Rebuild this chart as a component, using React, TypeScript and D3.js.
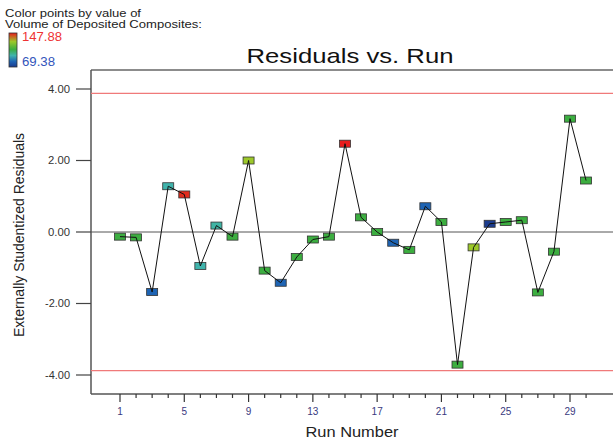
import React from "react";
import * as d3 from "d3";

const runs = d3.range(1, 31);
const residuals = [
  -0.13, -0.15, -1.68, 1.28, 1.05, -0.95, 0.18, -0.13, 2.0, -1.08,
  -1.42, -0.7, -0.21, -0.13, 2.47, 0.41, 0.0, -0.3, -0.5, 0.72,
  0.28, -3.71, -0.43, 0.23, 0.28, 0.33, -1.69, -0.55, 3.17, 1.44,
];
const volumes = [
  110, 110, 82, 96, 146, 96, 97, 110, 128, 110,
  82, 110, 110, 110, 147.88, 110, 110, 82, 110, 82,
  110, 110, 128, 70, 110, 110, 110, 110, 110, 110,
];
const limit = 3.88;
const yTicks = [-4, -2, 0, 2, 4];
const xMajorTicks = [1, 5, 9, 13, 17, 21, 25, 29];
const xMinorTicks = d3.range(1, 31);
const volMin = 69.38;
const volMax = 147.88;
const colorStops = [69.38, 82, 96, 110, 128, 147.88];
const colorRange = ["#1b3a8c", "#1e64b4", "#40b4ac", "#3cae40", "#9cc82a", "#e81c1c"];

export default function App() {
  const W = 613, H = 441;
  const left = 91, top = 70, bottom = 394, right = 613;
  const x = d3.scaleLinear().domain([1, 29]).range([120, 570]);
  const y = d3.scaleLinear().domain([-4, 4]).range([375, 89]);
  const color = d3.scaleLinear<string>().domain(colorStops).range(colorRange);
  const line = d3.line<number>().x((_, i) => x(runs[i])).y((d) => y(d));
  const font = "Arial, 'Liberation Sans', sans-serif";
  const gy = d3.scaleLinear().domain([volMin, volMax]).range([67, 33]);
  const fit = { lengthAdjust: "spacingAndGlyphs" as const };

  return (
    <svg width={W} height={H} style={{ position: "absolute", left: 0, top: 0 }} fontFamily={font}>
      <defs>
        <linearGradient id="vg" x1="0" y1="1" x2="0" y2="0">
          {colorStops.map((s, i) => (
            <stop key={i} offset={(s - volMin) / (volMax - volMin)} stopColor={colorRange[i]} />
          ))}
        </linearGradient>
      </defs>
      {/* legend */}
      <text x={5} y={17} fontSize={11.5} fill="#222" textLength={136} {...fit}>Color points by value of</text>
      <text x={5} y={28} fontSize={11.5} fill="#222" textLength={197} {...fit}>Volume of Deposited Composites:</text>
      <rect x={9} y={gy(volMax)} width={8} height={gy(volMin) - gy(volMax)} fill="url(#vg)" stroke="#333" strokeWidth={0.8} />
      <text x={22} y={41} fontSize={12} fill="#ee3333" textLength={40} {...fit}>{volMax.toFixed(2)}</text>
      <text x={22} y={66} fontSize={12} fill="#3355bb" textLength={33} {...fit}>{volMin.toFixed(2)}</text>

      {/* title */}
      <text x={350} y={63} fontSize={21} textAnchor="middle" fill="#111" textLength={207} {...fit}>Residuals vs. Run</text>

      {/* frame */}
      <line x1={left} y1={top} x2={right} y2={top} stroke="#666" strokeWidth={1.5} />
      <line x1={left} y1={top} x2={left} y2={bottom} stroke="#555" strokeWidth={1.5} />
      <line x1={left} y1={bottom} x2={right} y2={bottom} stroke="#555" strokeWidth={1.5} />

      {/* y ticks */}
      {yTicks.map((t) => (
        <g key={t}>
          <line x1={76} x2={left} y1={y(t)} y2={y(t)} stroke="#444" strokeWidth={1.2} />
          <text x={70} y={y(t) + 3.5} fontSize={10} textAnchor="end" fill="#333" textLength={t < 0 ? 25 : 22} {...fit}>{t.toFixed(2)}</text>
        </g>
      ))}
      {/* x ticks */}
      {xMinorTicks.map((t) => (
        <line key={t} x1={x(t)} x2={x(t)} y1={bottom} y2={xMajorTicks.includes(t) ? 402 : 398} stroke="#333" strokeWidth={1.2} />
      ))}
      {xMajorTicks.map((t) => (
        <text key={t} x={x(t)} y={415} fontSize={10} textAnchor="middle" fill="#3a3a80">{t}</text>
      ))}

      {/* reference lines */}
      <line x1={left} x2={right} y1={y(limit)} y2={y(limit)} stroke="#f07a7a" strokeWidth={1.2} />
      <line x1={left} x2={right} y1={y(-limit)} y2={y(-limit)} stroke="#f07a7a" strokeWidth={1.2} />
      <line x1={left} x2={right} y1={y(0)} y2={y(0)} stroke="#555" strokeWidth={1} />

      {/* markers */}
      {residuals.map((r, i) => (
        <rect key={i} x={x(runs[i]) - 5.5} y={y(r) - 3.5} width={11} height={7} fill={color(volumes[i])} stroke="#333" strokeWidth={0.8} />
      ))}
      <path d={line(residuals) ?? ""} fill="none" stroke="#111" strokeWidth={1} />

      {/* axis labels */}
      <text x={352} y={437} fontSize={15} textAnchor="middle" fill="#222" textLength={93} {...fit}>Run Number</text>
      <text transform={`translate(24,${235}) rotate(-90)`} fontSize={14} textAnchor="middle" fill="#222" textLength={204} {...fit}>Externally Studentized Residuals</text>
    </svg>
  );
}
